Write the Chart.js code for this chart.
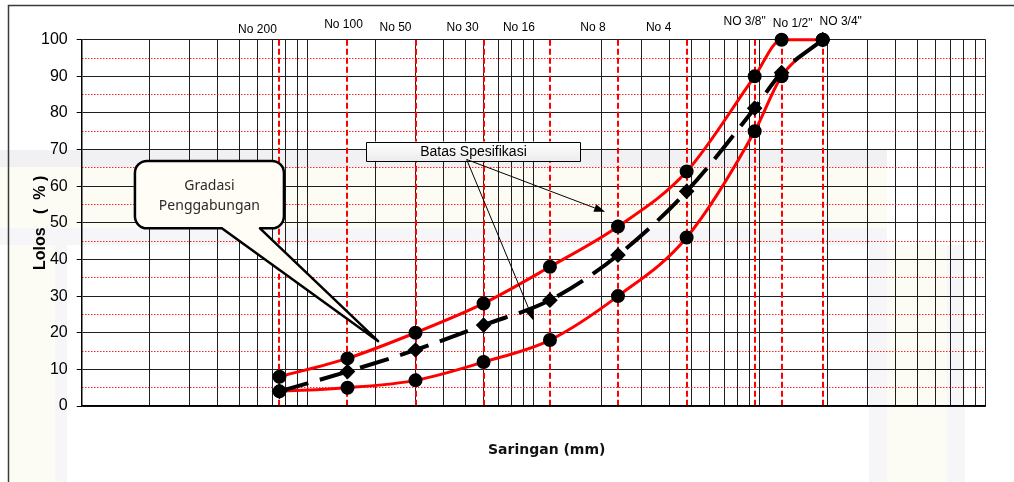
<!DOCTYPE html>
<html>
<head>
<meta charset="utf-8">
<script src="https://cdn.jsdelivr.net/npm/chart.js@4.4.1/dist/chart.umd.min.js"></script>
<style>
  body { margin: 0; background: #fff; }
  #chart { display: block; }
</style>
</head>
<body>
<canvas id="chart" width="1014" height="482"></canvas>
<script>
// sieve openings (mm) and their names
const sieveSizes = [0.075, 0.15, 0.3, 0.6, 1.18, 2.36, 4.75, 9.5, 12.5, 19];
const sieveNames = ['No 200', 'No 100', 'No 50', 'No 30', 'No 16', 'No 8', 'No 4', 'NO 3/8"', 'No 1/2"', 'NO 3/4"'];

// percent passing
const upperLimit = [8, 13, 20, 28, 38, 49, 64, 90, 100, 100];
const lowerLimit = [4, 5, 7, 12, 18, 30, 46, 75, 90, 100];
const combined = [4, 9.4, 15.3, 22.1, 28.9, 41.2, 58.6, 81.3, 91, 100];

// grid lines of the log paper
const xGrid = [0.01, 0.02, 0.03, 0.04, 0.05, 0.06, 0.07, 0.08, 0.09,
  0.1, 0.2, 0.3, 0.4, 0.5, 0.6, 0.7, 0.8, 0.9,
  1, 2, 3, 4, 5, 6, 7, 8, 9,
  10, 20, 30, 40, 50, 60, 70, 80, 90, 100];
const yHalfLines = [5, 15, 25, 35, 45, 55, 65, 75, 85, 95];

// where the sieve names sit above the plot (px from the sieve line / plot top)
const sieveLabelDx = [-22, -4, -20, -21, -31, -25, -28, -10, 11, 18];
const sieveLabelDy = [-10, -15, -12, -12, -12, -12, -12, -18, -16, -18];

// callouts, in data units (mm, %)
const callout = {
  lines: ['Gradasi', 'Penggabungan'],
  x0: 0.0172, x1: 0.0785, yTop: 66.9, yBot: 48.5,
  baseL: 0.0417, baseR: 0.0615, tipX: 0.205, tipY: 17.7
};
const specBox = {
  text: 'Batas Spesifikasi',
  x0: 0.182, x1: 1.61, yTop: 72.2, yBot: 66.9,
  fromX: 0.505, fromY: 67.3,
  targets: [[2.07, 53.0], [1.0, 23.3]]
};

const toPoints = vals => sieveSizes.map((s, i) => ({ x: s, y: vals[i] }));

function arrow(ctx, x1, y1, x2, y2) {
  const a = Math.atan2(y2 - y1, x2 - x1);
  const len = 11, half = 4;
  const bx = x2 - len * Math.cos(a), by = y2 - len * Math.sin(a);
  ctx.beginPath();
  ctx.moveTo(x1, y1);
  ctx.lineTo(bx, by);
  ctx.stroke();
  ctx.beginPath();
  ctx.moveTo(x2, y2);
  ctx.lineTo(bx + half * Math.sin(a), by - half * Math.cos(a));
  ctx.lineTo(bx - half * Math.sin(a), by + half * Math.cos(a));
  ctx.closePath();
  ctx.fill();
}

const paperPlugin = {
  id: 'paper',
  beforeDraw(chart) {
    const ctx = chart.ctx;
    ctx.save();
    ctx.fillStyle = '#fff';
    ctx.fillRect(0, 0, chart.width, chart.height);
    // faint watermark behind the chart
    ctx.fillStyle = '#f1f1f4';
    ctx.fillRect(0, 150, 887, 17);
    ctx.fillStyle = '#f6f6f8';
    ctx.fillRect(0, 228, 887, 17);
    ctx.fillRect(55, 245, 12, 237);
    ctx.fillRect(869, 245, 18, 237);
    ctx.fillRect(947, 245, 18, 237);
    ctx.fillStyle = '#fdfcf4';
    ctx.fillRect(0, 167, 887, 61);
    ctx.fillRect(10, 245, 45, 237);
    ctx.fillRect(887, 245, 60, 237);
    // frame
    ctx.strokeStyle = '#3a3a3a';
    ctx.lineWidth = 1.5;
    ctx.strokeRect(8.5, 5.5, 1100, 600);
    ctx.restore();
  },
  afterDatasetsDraw(chart) {
    const { ctx, chartArea } = chart;
    const sx = chart.scales.x, sy = chart.scales.y;
    const X = v => sx.getPixelForValue(v), Y = v => sy.getPixelForValue(v);
    ctx.save();

    // sieve names
    ctx.fillStyle = '#000';
    ctx.font = '12px "Liberation Sans", Arial, sans-serif';
    ctx.textAlign = 'center';
    ctx.textBaseline = 'middle';
    sieveSizes.forEach((s, i) => {
      ctx.fillText(sieveNames[i], X(s) + sieveLabelDx[i], chartArea.top + sieveLabelDy[i]);
    });

    // "Gradasi Penggabungan" callout
    const L = X(callout.x0), R = X(callout.x1), T = Y(callout.yTop), B = Y(callout.yBot);
    const r = 12;
    ctx.beginPath();
    ctx.moveTo(L + r, T);
    ctx.lineTo(R - r, T);
    ctx.arcTo(R, T, R, T + r, r);
    ctx.lineTo(R, B - r);
    ctx.arcTo(R, B, R - r, B, r);
    ctx.lineTo(X(callout.baseR), B);
    ctx.lineTo(X(callout.tipX), Y(callout.tipY));
    ctx.lineTo(X(callout.baseL), B);
    ctx.lineTo(L + r, B);
    ctx.arcTo(L, B, L, B - r, r);
    ctx.lineTo(L, T + r);
    ctx.arcTo(L, T, L + r, T, r);
    ctx.closePath();
    ctx.fillStyle = '#fffdf6';
    ctx.fill();
    ctx.strokeStyle = '#000';
    ctx.lineWidth = 2.5;
    ctx.lineJoin = 'round';
    ctx.stroke();
    ctx.fillStyle = '#2a2a2a';
    ctx.font = '14px "Noto Sans", sans-serif';
    const cx = (L + R) / 2, cy = (T + B) / 2;
    ctx.fillText(callout.lines[0], cx, cy - 9);
    ctx.fillText(callout.lines[1], cx, cy + 11);

    // "Batas Spesifikasi" box with arrows
    const bl = X(specBox.x0), br = X(specBox.x1), bt = Y(specBox.yTop), bb = Y(specBox.yBot);
    const grad = ctx.createLinearGradient(0, bt, 0, bb);
    grad.addColorStop(0, '#ffffff');
    grad.addColorStop(1, '#ececec');
    ctx.fillStyle = grad;
    ctx.fillRect(bl, bt, br - bl, bb - bt);
    ctx.strokeStyle = '#000';
    ctx.lineWidth = 1;
    ctx.strokeRect(Math.round(bl) + 0.5, Math.round(bt) + 0.5, Math.round(br - bl), Math.round(bb - bt));
    ctx.fillStyle = '#000';
    ctx.font = '14px "Liberation Sans", Arial, sans-serif';
    ctx.fillText(specBox.text, (bl + br) / 2, (bt + bb) / 2 + 1);
    specBox.targets.forEach(([tx, ty]) => {
      arrow(ctx, X(specBox.fromX), Y(specBox.fromY), X(tx), Y(ty));
    });

    // x axis title
    ctx.font = 'bold 14px "DejaVu Sans", Verdana, sans-serif';
    ctx.fillStyle = '#111';
    ctx.fillText('Saringan (mm)', (chartArea.left + chartArea.right) / 2 + 13, chartArea.bottom + 44);
    ctx.restore();
  }
};

const chart = new Chart(document.getElementById('chart'), {
  type: 'line',
  data: {
    datasets: [
      {
        label: 'Gradasi Penggabungan',
        data: toPoints(combined),
        borderColor: '#000',
        borderWidth: 4,
        borderDash: [30, 12],
        pointStyle: 'rectRot',
        pointRadius: 5,
        pointBackgroundColor: '#000',
        pointBorderColor: '#000',
        cubicInterpolationMode: 'monotone',
        clip: false,
        order: 0
      },
      {
        label: 'Batas Atas',
        data: toPoints(upperLimit),
        borderColor: '#ff0000',
        borderWidth: 3,
        pointRadius: 5.5,
        pointBackgroundColor: '#000',
        pointBorderColor: '#000',
        cubicInterpolationMode: 'monotone',
        clip: false,
        order: 1
      },
      {
        label: 'Batas Bawah',
        data: toPoints(lowerLimit),
        borderColor: '#ff0000',
        borderWidth: 3,
        pointRadius: 5.5,
        pointBackgroundColor: '#000',
        pointBorderColor: '#000',
        cubicInterpolationMode: 'monotone',
        clip: false,
        order: 1
      }
    ]
  },
  plugins: [paperPlugin],
  options: {
    responsive: false,
    animation: false,
    devicePixelRatio: 1,
    layout: { padding: { left: 0, right: 28.3, top: 39.7, bottom: 0 } },
    plugins: { legend: { display: false }, tooltip: { enabled: false } },
    scales: {
      x: {
        type: 'logarithmic',
        min: 0.01,
        max: 100,
        afterBuildTicks: s => { s.ticks = xGrid.map(v => ({ value: v })); },
        afterFit: s => { s.height = 76; },
        ticks: { display: false },
        grid: { color: '#1e1e1e', lineWidth: 1, drawTicks: false },
        border: { color: '#000', width: 1.5 }
      },
      xSieve: {
        type: 'logarithmic',
        position: 'bottom',
        min: 0.01,
        max: 100,
        afterBuildTicks: s => { s.ticks = sieveSizes.map(v => ({ value: v })); },
        ticks: { display: false },
        grid: { color: '#ff0000', lineWidth: 2, drawTicks: false, z: -0.5 },
        border: { display: false, dash: [6, 3] }
      },
      y: {
        min: 0,
        max: 100,
        afterFit: s => { s.width = 81.7; },
        ticks: {
          stepSize: 10,
          color: '#000',
          padding: 9,
          font: { family: '"Liberation Sans", Arial, sans-serif', size: 16 }
        },
        grid: { color: '#1e1e1e', lineWidth: 1, tickLength: 5, tickColor: '#000' },
        border: { color: '#000', width: 1.5 },
        title: {
          display: true,
          text: 'Lolos   (  % )',
          color: '#000',
          padding: { top: 31.4, bottom: 0 },
          font: { family: '"Liberation Sans", Arial, sans-serif', size: 16, weight: 'bold' }
        }
      },
      yHalf: {
        position: 'left',
        min: 0,
        max: 100,
        afterBuildTicks: s => { s.ticks = yHalfLines.map(v => ({ value: v })); },
        ticks: { display: false },
        grid: { color: 'rgba(255,0,0,0.85)', lineWidth: 1, drawTicks: false, z: -0.5 },
        border: { display: false, dash: [1.5, 1.5] }
      }
    }
  }
});
</script>
</body>
</html>
